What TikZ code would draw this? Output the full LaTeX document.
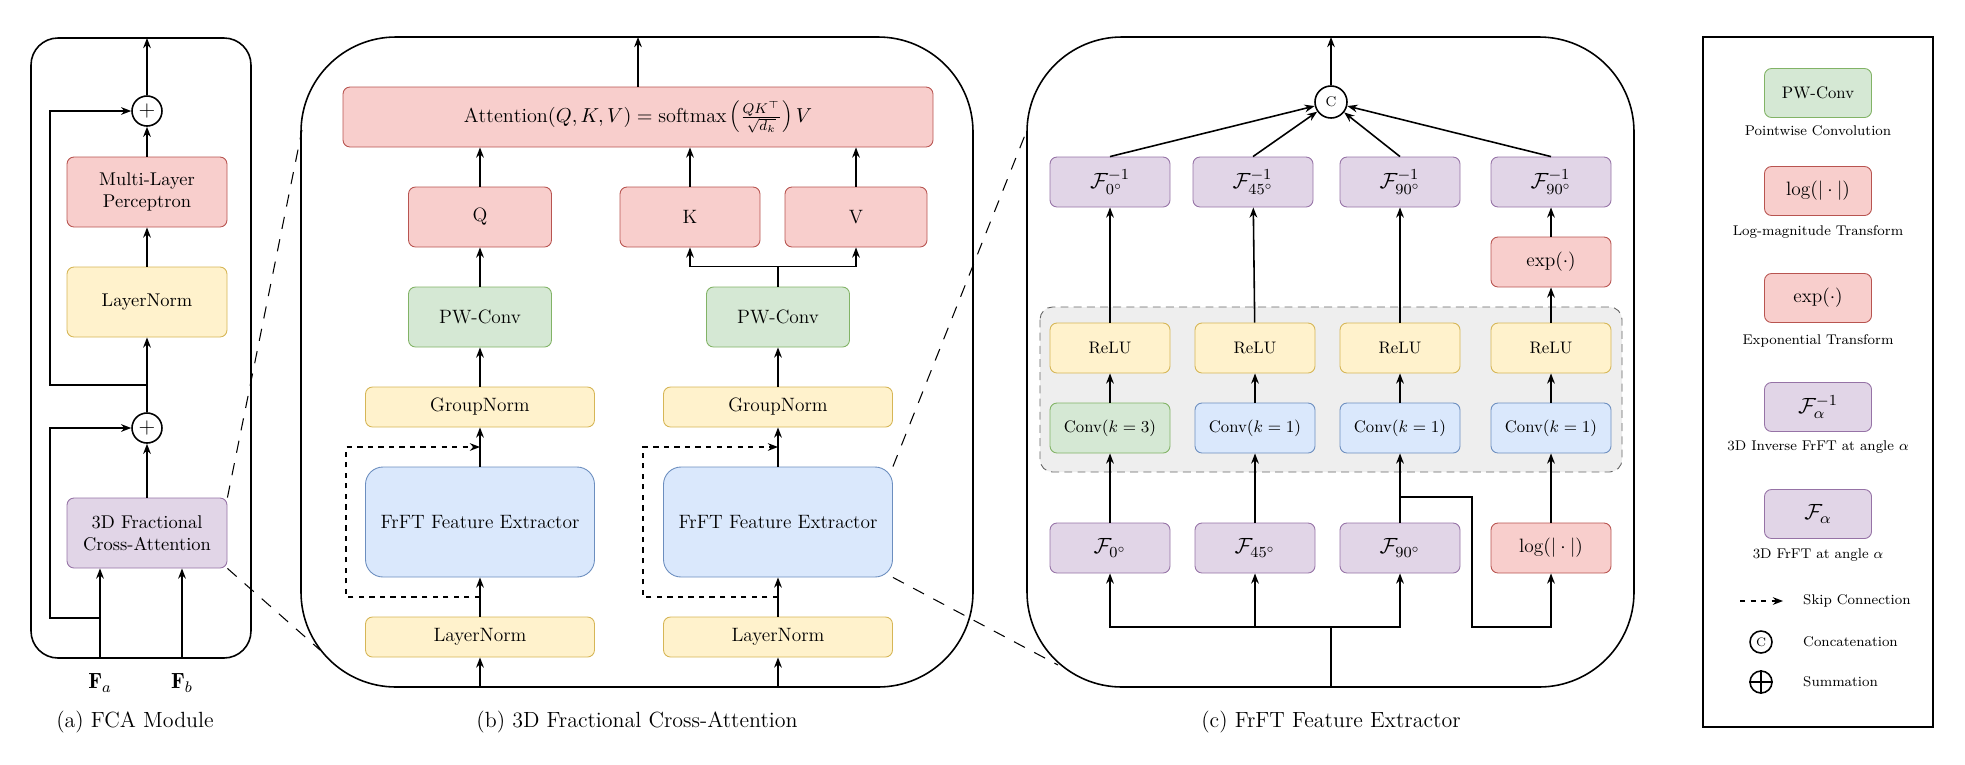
\RequirePackage{fix-cm}
\documentclass[tikz,border=0pt]{standalone}
\usepackage{fontspec}
\usetikzlibrary{arrows.meta,positioning,calc}

\definecolor{redF}{HTML}{F8CECC}\definecolor{redD}{HTML}{B85450}
\definecolor{yelF}{HTML}{FFF2CC}\definecolor{yelD}{HTML}{D6B656}
\definecolor{grnF}{HTML}{D5E8D4}\definecolor{grnD}{HTML}{82B366}
\definecolor{bluF}{HTML}{DAE8FC}\definecolor{bluD}{HTML}{6C8EBF}
\definecolor{purF}{HTML}{E1D5E7}\definecolor{purD}{HTML}{9673A6}
\definecolor{gryF}{HTML}{EEEEEE}\definecolor{gryD}{HTML}{666666}

\tikzset{
  blk/.style 2 args={draw, rounded corners=4pt, align=center, inner sep=1pt, line width=0.5pt,
    minimum width=#1*0.2mm, minimum height=#2*0.2mm},
  rbox/.style={fill=redF, draw=redD},
  ybox/.style={fill=yelF, draw=yelD},
  gbox/.style={fill=grnF, draw=grnD},
  bbox/.style={fill=bluF, draw=bluD},
  pbox/.style={fill=purF, draw=purD},
  panel/.style={draw, line width=0.9pt, rounded corners=19mm},
  arr/.style={->, line width=0.9pt},
  skipln/.style={->, dashed, line width=0.8pt},
  zoomln/.style={line width=0.6pt, dash pattern=on 7pt off 6pt},
  opc/.style={circle, draw, line width=0.9pt, inner sep=0pt, minimum size=#1*0.2mm},
  fa/.style={font=\fontsize{10.5}{12.5}\selectfont},
  fb/.style={font=\fontsize{11}{13}\selectfont},
  fc/.style={font=\fontsize{9.5}{11}\selectfont},
  fm/.style={font=\fontsize{12.5}{14}\selectfont},
  fl/.style={font=\fontsize{8}{10}\selectfont},
  capt/.style={font=\fontsize{12.5}{15}\selectfont},
}

\begin{document}
\begin{tikzpicture}[x=0.2mm, y=-0.2mm, >={Stealth[length=5.8pt,width=4.4pt]}]
\useasboundingbox (0,0) rectangle (1965,764);

% (a) FCA module
\draw[line width=0.9pt, rounded corners=5.4mm] (31,38) rectangle (251,658);
\node[opc=30, fm] (sumB) at (147,111) {$+$};
\node[blk={160}{70}, rbox, fa] (mlp) at (147,192) {Multi-Layer\\Perceptron};
\node[blk={160}{70}, ybox, fa] (lnA) at (147,302) {LayerNorm};
\node[opc=30, fm] (sumA) at (147,428) {$+$};
\node[blk={160}{70}, pbox, fa] (fca) at (147,533) {3D Fractional\\Cross-Attention};
\node[fm] (fa) at (100,683) {$\mathbf{F}_a$};
\node[fm] (fb) at (182,683) {$\mathbf{F}_b$};
\coordinate (inA) at (100,658);
\coordinate (inB) at (182,658);
\coordinate (outA) at (147,38);
\coordinate (skA) at (100,618);
\coordinate (skB) at (147,385);
\draw[arr] (inA) -- (fca.south -| inA);
\draw[arr] (inB) -- (fca.south -| inB);
\draw[arr] (fca) -- (sumA);
\draw[arr] (sumA) -- (lnA);
\draw[arr] (lnA) -- (mlp);
\draw[arr] (mlp) -- (sumB);
\draw[arr] (sumB) -- (outA);
\draw[arr] (skA) -- ++(-50,0) |- (sumA);
\draw[arr] (skB) -- ++(-97,0) |- (sumB);
\node[capt] (capA) at (135,722) {(a) FCA Module};

% (b) 3D fractional cross-attention
\draw[panel] (301,37) rectangle (973,687);
\node[blk={590}{60}, rbox, font=\fontsize{11.5}{13}\selectfont] (att) at (638,117)
  {$\mathrm{Attention}(Q,K,V)=\mathrm{softmax}\left(\frac{QK^{\top}}{\sqrt{d_k}}\right)V$};
\node[blk={143}{60}, rbox, fb] (q) at (480,217) {Q};
\node[blk={140}{60}, rbox, fb] (k) at (690,217) {K};
\node[blk={142}{60}, rbox, fb] (v) at (856,217) {V};
\node[blk={143}{60}, gbox, fb] (pwL) at (480,317) {PW-Conv};
\node[blk={143}{60}, gbox, fb] (pwR) at (778,317) {PW-Conv};
\node[blk={229}{40}, ybox, fb] (gnL) at (480,407) {GroupNorm};
\node[blk={229}{40}, ybox, fb] (gnR) at (778,407) {GroupNorm};
\node[blk={229}{110}, bbox, fb, rounded corners=3.5mm] (feL) at (480,522) {FrFT Feature Extractor};
\node[blk={229}{110}, bbox, fb, rounded corners=3.5mm] (feR) at (778,522) {FrFT Feature Extractor};
\node[blk={229}{40}, ybox, fb] (lnL) at (480,637) {LayerNorm};
\node[blk={229}{40}, ybox, fb] (lnR) at (778,637) {LayerNorm};
\coordinate (inL) at (480,687);
\coordinate (inR) at (778,687);
\coordinate (outB) at (638,37);
\draw[arr] (inL) -- (lnL);
\draw[arr] (inR) -- (lnR);
\draw[arr] (lnL) -- (feL);
\draw[arr] (lnR) -- (feR);
\draw[arr] (feL) -- (gnL);
\draw[arr] (feR) -- (gnR);
\draw[arr] (gnL) -- (pwL);
\draw[arr] (gnR) -- (pwR);
\draw[arr] (pwL) -- (q);
\draw[arr] (pwR.north) -- ++(0,-20) -| (k.south);
\draw[arr] (pwR.north) -- ++(0,-20) -| (v.south);
\draw[arr] (q) -- (q.north |- att.south);
\draw[arr] (k) -- (k.north |- att.south);
\draw[arr] (v) -- (v.north |- att.south);
\draw[arr] (att) -- (outB);
\draw[skipln] ($(lnL.north)!0.5!(feL.south)$) -- ++(-134,0) |- ($(feL.north)!0.5!(gnL.south)$);
\draw[skipln] ($(lnR.north)!0.5!(feR.south)$) -- ++(-135,0) |- ($(feR.north)!0.5!(gnR.south)$);
\node[capt] (capB) at (637,722) {(b) 3D Fractional Cross-Attention};

% (c) FrFT feature extractor
\draw[panel] (1027,37) rectangle (1634,687);
\draw[fill=gryF, draw=gryD, line width=0.5pt, dash pattern=on 4.5pt off 3pt, rounded corners=2.5mm]
  (1040,307) rectangle (1622,472);
\node[opc=32, font=\fontsize{8}{9}\selectfont] (cat) at (1331,102) {C};
\node[blk={120}{50}, pbox, fm] (fi1) at (1110,182) {$\mathcal{F}^{-1}_{0^\circ}$};
\node[blk={120}{50}, pbox, fm] (fi2) at (1253,182) {$\mathcal{F}^{-1}_{45^\circ}$};
\node[blk={120}{50}, pbox, fm] (fi3) at (1400,182) {$\mathcal{F}^{-1}_{90^\circ}$};
\node[blk={120}{50}, pbox, fm] (fi4) at (1551,182) {$\mathcal{F}^{-1}_{90^\circ}$};
\node[blk={120}{50}, rbox, font=\fontsize{11}{13}\selectfont] (ex) at (1551,262) {$\exp(\cdot)$};
\node[blk={120}{50}, ybox, fc] (re1) at (1110,348) {ReLU};
\node[blk={120}{50}, ybox, fc] (re2) at (1255,348) {ReLU};
\node[blk={120}{50}, ybox, fc] (re3) at (1400,348) {ReLU};
\node[blk={120}{50}, ybox, fc] (re4) at (1551,348) {ReLU};
\node[blk={120}{50}, gbox, fc] (cv1) at (1110,428) {Conv$(k=3)$};
\node[blk={120}{50}, bbox, fc] (cv2) at (1255,428) {Conv$(k=1)$};
\node[blk={120}{50}, bbox, fc] (cv3) at (1400,428) {Conv$(k=1)$};
\node[blk={120}{50}, bbox, fc] (cv4) at (1551,428) {Conv$(k=1)$};
\node[blk={120}{50}, pbox, fm] (f1) at (1110,548) {$\mathcal{F}_{0^\circ}$};
\node[blk={120}{50}, pbox, fm] (f2) at (1255,548) {$\mathcal{F}_{45^\circ}$};
\node[blk={120}{50}, pbox, fm] (f3) at (1400,548) {$\mathcal{F}_{90^\circ}$};
\node[blk={120}{50}, rbox, font=\fontsize{11}{13}\selectfont] (lg) at (1551,548) {$\log(|\cdot|)$};
\coordinate (inC) at (1331,687);
\coordinate (bus) at (1331,627);
\coordinate (outC) at (1331,37);
\draw[line width=0.9pt] (inC) -- (bus);
\draw[arr] (bus) -| (f1.south);
\draw[arr] (bus) -| (f2.south);
\draw[arr] (bus) -| (f3.south);
\draw[arr] ($(f3.north)!0.37!(cv3.south)$) -- ++(72,0) -- ++(0,130) -| (lg.south);
\draw[arr] (f1) -- (cv1);
\draw[arr] (f2) -- (cv2);
\draw[arr] (f3) -- (cv3);
\draw[arr] (lg) -- (cv4);
\draw[arr] (cv1) -- (re1);
\draw[arr] (cv2) -- (re2);
\draw[arr] (cv3) -- (re3);
\draw[arr] (cv4) -- (re4);
\draw[arr] (re1) -- (fi1);
\draw[arr] (re2) -- (fi2);
\draw[arr] (re3) -- (fi3);
\draw[arr] (re4) -- (ex);
\draw[arr] (ex) -- (fi4);
\draw[arr] (fi1.north) -- (cat);
\draw[arr] (fi2.north) -- (cat);
\draw[arr] (fi3.north) -- (cat);
\draw[arr] (fi4.north) -- (cat);
\draw[arr] (cat) -- (outC);
\node[capt] (capC) at (1331,722) {(c) FrFT Feature Extractor};

% zoom lines between panels
\coordinate (zA1) at (302,130);
\coordinate (zA2) at (320,650);
\coordinate (zB1) at (1027,130);
\coordinate (zB2) at (1058,665);
\draw[zoomln] (fca.north east) -- (zA1);
\draw[zoomln] (fca.south east) -- (zA2);
\draw[zoomln] (feR.north east) -- (zB1);
\draw[zoomln] (feR.south east) -- (zB2);

% legend
\draw[line width=1pt] (1703,37) rectangle (1933,727);
\node[blk={107}{49}, gbox, font=\fontsize{9.5}{11}\selectfont] (lpw) at (1818,93) {PW-Conv};
\node[fl] (tpw) at (1818,131) {Pointwise Convolution};
\node[blk={107}{49}, rbox, font=\fontsize{11}{13}\selectfont] (llg) at (1818,191) {$\log(|\cdot|)$};
\node[fl] (tlg) at (1818,232) {Log-magnitude Transform};
\node[blk={107}{49}, rbox, font=\fontsize{11}{13}\selectfont] (lex) at (1818,298) {$\exp(\cdot)$};
\node[fl] (tex) at (1818,341) {Exponential Transform};
\node[blk={107}{49}, pbox, fm] (lfi) at (1818,407) {$\mathcal{F}^{-1}_{\alpha}$};
\node[fl] (tfi) at (1818,447) {3D Inverse FrFT at angle $\alpha$};
\node[blk={107}{49}, pbox, fm] (lf) at (1818,514) {$\mathcal{F}_{\alpha}$};
\node[fl] (tf) at (1818,555) {3D FrFT at angle $\alpha$};
\coordinate (lsk) at (1740,601);
\node[fl, anchor=west] (tsk) at (1797,601) {Skip Connection};
\draw[skipln] (lsk) -- (1783,601);
\node[opc=22, font=\fontsize{7}{8}\selectfont] (lcat) at (1761,642) {C};
\node[fl, anchor=west] (tcat) at (1797,642) {Concatenation};
\node[opc=22] (lsum) at (1761,682) {};
\draw[line width=0.9pt] (lsum.north) -- (lsum.south) (lsum.west) -- (lsum.east);
\node[fl, anchor=west] (tsum) at (1797,682) {Summation};
\end{tikzpicture}
\end{document}
